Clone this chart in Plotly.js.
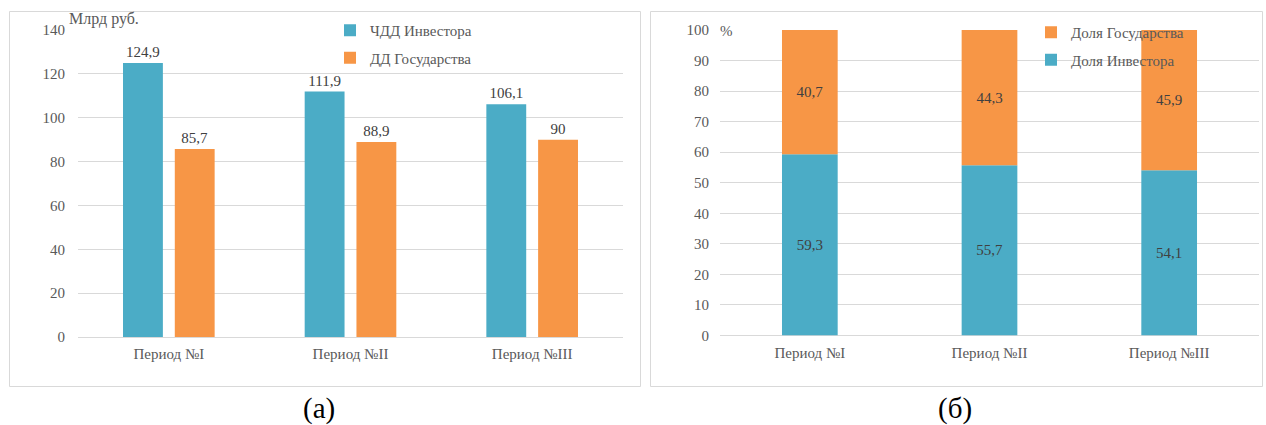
<!DOCTYPE html>
<html>
<head>
<meta charset="utf-8">
<script src="https://cdn.plot.ly/plotly-3.0.1.min.js"></script>
<style>
  html, body { margin: 0; padding: 0; background: #ffffff; }
  #chart { width: 1266px; height: 425px; }
  #chart svg text { font-family: "Liberation Serif", "Times New Roman", serif !important; }
</style>
</head>
<body>
<div id="chart"></div>
<script>
// Периоды (общие для обеих диаграмм)
const periods = ['Период №I', 'Период №II', 'Период №III'];

// (а) Доходы, млрд руб.
const npvInvestor = [124.9, 111.9, 106.1];
const incomeState = [85.7, 88.9, 90];

// (б) Доли, %
const shareInvestor = [59.3, 55.7, 54.1];
const shareState = [40.7, 44.3, 45.9];

const W = 1266, H = 425;
const px = v => v / W;
const py = v => 1 - v / H;

const BLUE = '#4BACC6';
const ORANGE = '#F79646';
const SERIF = 'Liberation Serif';
const fmt = v => String(v).replace('.', ',');

const labelFont = { family: SERIF, size: 15, color: '#404040' };

const traces = [
  {
    type: 'bar', name: 'ЧДД Инвестора', x: periods, y: npvInvestor,
    xaxis: 'x', yaxis: 'y', marker: { color: BLUE },
    text: npvInvestor.map(fmt), textposition: 'outside', cliponaxis: false,
    textfont: labelFont, outsidetextfont: labelFont,
    legend: 'legend', legendgroup: 'a1', legendrank: 1, hoverinfo: 'skip'
  },
  {
    type: 'bar', name: 'ДД Государства', x: periods, y: incomeState,
    xaxis: 'x', yaxis: 'y', marker: { color: ORANGE },
    text: incomeState.map(fmt), textposition: 'outside', cliponaxis: false,
    textfont: labelFont, outsidetextfont: labelFont,
    legend: 'legend', legendgroup: 'a2', legendrank: 2, hoverinfo: 'skip'
  },
  {
    type: 'bar', name: 'Доля Инвестора', x: periods, y: shareInvestor,
    xaxis: 'x2', yaxis: 'y2', marker: { color: BLUE },
    offsetgroup: 's', width: 0.31,
    text: shareInvestor.map(fmt), textposition: 'inside', insidetextanchor: 'middle',
    textfont: labelFont, insidetextfont: labelFont,
    legend: 'legend2', legendgroup: 'b1', legendrank: 2, hoverinfo: 'skip'
  },
  {
    type: 'bar', name: 'Доля Государства', x: periods, y: shareState,
    xaxis: 'x2', yaxis: 'y2', marker: { color: ORANGE },
    offsetgroup: 's', width: 0.31, base: shareInvestor,
    text: shareState.map(fmt), textposition: 'inside', insidetextanchor: 'middle',
    textfont: labelFont, insidetextfont: labelFont,
    legend: 'legend2', legendgroup: 'b2', legendrank: 1, hoverinfo: 'skip'
  }
];

const tickFont = { family: SERIF, size: 15, color: '#595959' };
const gridColor = '#d9d9d9';

const baseX = {
  type: 'category', showgrid: false, showline: false, zeroline: false,
  ticks: '', tickfont: tickFont, fixedrange: true, ticklabelstandoff: 6
};
const baseY = {
  showgrid: true, gridcolor: gridColor, gridwidth: 1, zeroline: true,
  zerolinecolor: gridColor, zerolinewidth: 1, showline: false,
  ticks: '', tickfont: tickFont, fixedrange: true
};

const legendBase = {
  font: { family: SERIF, size: 15, color: '#595959' },
  bgcolor: 'rgba(0,0,0,0)', borderwidth: 0,
  xanchor: 'left', yanchor: 'top', tracegroupgap: 5,
  itemwidth: 30, orientation: 'v', traceorder: 'grouped'
};

const layout = {
  width: W, height: H,
  margin: { l: 0, r: 0, t: 0, b: 0 },
  font: { family: SERIF },
  paper_bgcolor: '#ffffff', plot_bgcolor: 'rgba(0,0,0,0)',
  barmode: 'group',
  bargap: 0.43, bargroupgap: 0.23,
  showlegend: true,
  xaxis: Object.assign({}, baseX, { domain: [px(78), px(623)], anchor: 'y' }),
  yaxis: Object.assign({}, baseY, { domain: [py(337), py(30)], anchor: 'x',
    range: [0, 140], dtick: 20, ticklabelstandoff: 12 }),
  xaxis2: Object.assign({}, baseX, { domain: [px(720), px(1259)], anchor: 'y2' }),
  yaxis2: Object.assign({}, baseY, { domain: [py(335.5), py(30)], anchor: 'x2',
    range: [0, 100], dtick: 10, ticklabelstandoff: 10 }),
  legend: Object.assign({}, legendBase, { x: px(330), y: py(14) }),
  legend2: Object.assign({}, legendBase, { x: px(1031), y: py(16) }),
  shapes: [
    { type: 'rect', xref: 'paper', yref: 'paper', x0: px(9.5), x1: px(640.5),
      y0: py(386.5), y1: py(11.5), line: { color: '#d9d9d9', width: 1 }, layer: 'below' },
    { type: 'rect', xref: 'paper', yref: 'paper', x0: px(650.5), x1: px(1262.5),
      y0: py(386.5), y1: py(11.5), line: { color: '#d9d9d9', width: 1 }, layer: 'below' }
  ],
  annotations: [
    { text: 'Млрд руб.', xref: 'paper', yref: 'paper', x: px(67), y: py(19),
      xanchor: 'left', yanchor: 'middle', showarrow: false,
      font: { family: SERIF, size: 16, color: '#595959' } },
    { text: '%', xref: 'paper', yref: 'paper', x: px(718), y: py(31),
      xanchor: 'left', yanchor: 'middle', showarrow: false,
      font: { family: SERIF, size: 15, color: '#595959' } },
    { text: '(а)', xref: 'paper', yref: 'paper', x: px(319), y: py(408),
      xanchor: 'center', yanchor: 'middle', showarrow: false,
      font: { family: SERIF, size: 29, color: '#000000' } },
    { text: '(б)', xref: 'paper', yref: 'paper', x: px(955), y: py(408),
      xanchor: 'center', yanchor: 'middle', showarrow: false,
      font: { family: SERIF, size: 29, color: '#000000' } }
  ]
};

Plotly.newPlot('chart', traces, layout, { staticPlot: true, displayModeBar: false });
</script>
</body>
</html>
